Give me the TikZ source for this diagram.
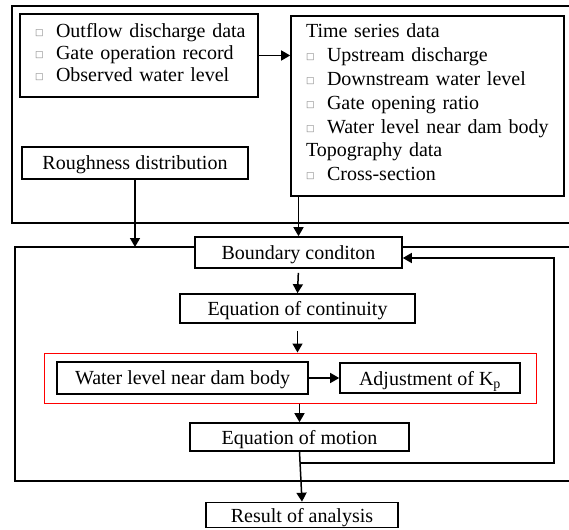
\documentclass[tikz,border=0pt]{standalone}
\usepackage{fontspec}
\setmainfont{Liberation Serif}
\newfontfamily\symfont{DejaVu Sans}
\usetikzlibrary{arrows.meta, positioning}

\newcommand{\ind}{\hspace*{8pt}}
\newcommand{\chk}{\ind\makebox[21pt][l]{\raisebox{2pt}{\symfont\fontsize{9}{9}\selectfont\textcolor{gray}{□}}}}

\begin{document}
\begin{tikzpicture}[x=1pt, y=-1pt, font=\fontsize{20}{22}\selectfont,
    box node/.style={draw, fill=white, line width=1.6pt, inner sep=0pt, text depth=0pt},
    list node/.style={draw, line width=1.6pt, align=left, inner xsep=7pt, inner ysep=0pt},
    red node/.style={draw=red, line width=1pt, inner sep=0pt},
    frame/.style={line width=1.6pt},
    arr/.style={-{Triangle[length=9pt,width=10pt]}, line width=1.5pt}]
\clip (0,0) rectangle (569,529);
% outer frames
\draw[frame] (580,6) -- (12,6) -- (12,223) -- (580,223);
\draw[frame] (580,247) -- (15,247) -- (15,481) -- (580,481);
\coordinate (lowtop) at (15,247);
\coordinate (fb) at (554,463);
% input data
\node[list node, text width=224pt, minimum height=83pt, text depth=50.5pt] (obs) at (139,55.5)
    {\chk Outflow discharge data\\ \chk Gate operation record\\ \chk Observed water level};
\node[list node, text width=259pt, minimum height=180pt, text depth=150pt,
    font=\fontsize{20}{23.8}\selectfont] (series) at (427.5,106)
    {\ind Time series data\\ \chk Upstream discharge\\ \chk Downstream water level\\
     \chk Gate opening ratio\\ \chk Water level near dam body\\ \ind Topography data\\
     \chk Cross-section};
\node[box node, minimum width=226pt, minimum height=32pt] (rough) at (135,163) {Roughness distribution};
% calculation loop
\node[box node, minimum width=207pt, minimum height=31pt] (bound) at (298.5,252.5) {Boundary conditon};
\node[box node, minimum width=235pt, minimum height=29pt] (cont) at (297.5,308.5) {Equation of continuity};
\node[red node, minimum width=492pt, minimum height=50pt] (redbox) at (290,378) {};
\node[box node, minimum width=251pt, minimum height=32pt] (wl) at (182.5,378) {Water level near dam body};
\node[box node, minimum width=180pt, minimum height=30pt] (kp) at (430,378) {Adjustment of~K\textsubscript{p}};
\node[box node, minimum width=219pt, minimum height=28pt] (motion) at (299.5,437) {Equation of motion};
\node[box node, minimum width=192pt, minimum height=25pt] (result) at (302,515) {Result of analysis};
% connectors
\draw[arr] (obs.east) -- (obs.east -| series.west);
\draw[arr] (rough.south) -- (rough.south |- lowtop);
\draw[arr] (series.south -| bound.north) -- (bound.north);
\draw[arr, shorten <=4pt] (bound.south) -- (cont.north);
\draw[arr, shorten <=7pt] (cont.south) -- (cont.south |- redbox.north);
\draw[arr] (redbox.south -| motion.north) -- (motion.north);
\draw[arr] (wl.east) -- (kp.west);
\draw[arr] (motion.south) -- (result.north);
\draw[arr] (motion.south |- fb) -- (fb) |- ([yshift=-5.5pt]bound.east);
\end{tikzpicture}
\end{document}
